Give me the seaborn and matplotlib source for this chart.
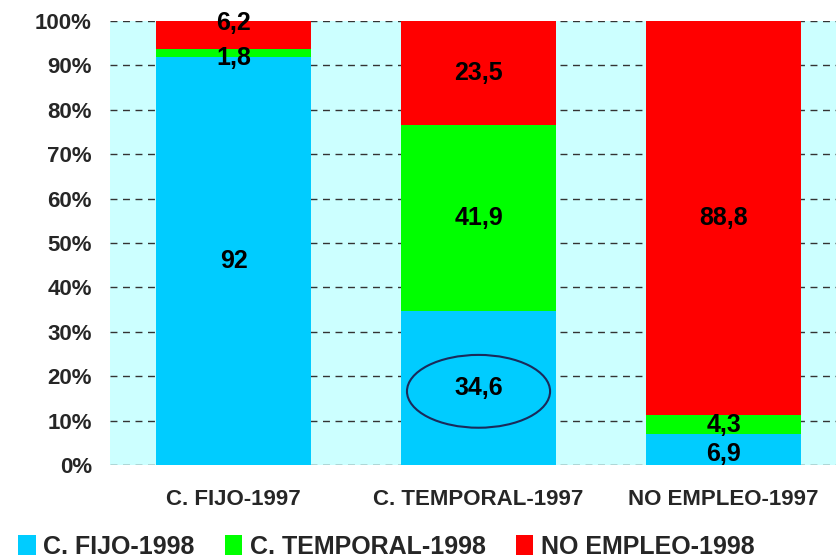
import numpy as np
import pandas as pd
import matplotlib
matplotlib.use("Agg")
import matplotlib.pyplot as plt
import seaborn as sns
from matplotlib.patches import Ellipse, Patch

# ---------------------------------------------------------------
# Datos (lectura del gráfico)
# ---------------------------------------------------------------
categorias = ["C. FIJO-1997", "C. TEMPORAL-1997", "NO EMPLEO-1997"]
series = ["C. FIJO-1998", "C. TEMPORAL-1998", "NO EMPLEO-1998"]
fijo_1998 = [92, 34.6, 6.9]
temporal_1998 = [1.8, 41.9, 4.3]
no_empleo_1998 = [6.2, 23.5, 88.8]
etiquetas = [["92", "1,8", "6,2"], ["34,6", "41,9", "23,5"], ["6,9", "4,3", "88,8"]]

colores = ["#00CCFF", "#00FF00", "#FF0000"]
fondo = "#CCFFFF"

df = pd.DataFrame({
    "cat": categorias,
    "fijo": fijo_1998,
    "temporal": temporal_1998,
    "no_empleo": no_empleo_1998,
})
df["c1"] = df["fijo"]
df["c2"] = df["fijo"] + df["temporal"]
df["c3"] = df["c2"] + df["no_empleo"]

sns.set_style("white")
plt.rcParams["font.family"] = ["Liberation Sans", "DejaVu Sans"]
plt.rcParams["font.weight"] = "bold"

fig = plt.figure(figsize=(8.36, 5.60), dpi=100)
ax = fig.add_axes([0.1316, 0.1696, 0.8684, 0.7929])
ax.set_facecolor(fondo)

# barras apiladas: se dibuja el acumulado de mayor a menor
for col, color in zip(["c3", "c2", "c1"], colores[::-1]):
    sns.barplot(data=df, x="cat", y=col, color=color, width=0.633,
                saturation=1, ax=ax, zorder=3, edgecolor="none")

ax.set_xlim(-0.504, 2.459)
ax.set_ylim(0, 100)
ax.set_yticks(np.arange(0, 101, 10))
ax.set_yticklabels([f"{v}%" for v in range(0, 101, 10)])
ax.yaxis.grid(True, linestyle=(0, (5, 4)), color="#333333", linewidth=1, zorder=0)
ax.set_axisbelow(True)
ax.tick_params(axis="y", labelsize=16, length=0, pad=13)
ax.tick_params(axis="x", labelsize=16, length=0, pad=17)
for lab in ax.get_xticklabels() + ax.get_yticklabels():
    lab.set_fontweight("bold")
ax.set_xlabel("")
ax.set_ylabel("")
for s in ax.spines.values():
    s.set_visible(False)

# etiquetas de valores (centro de cada tramo, con pequeños ajustes)
ajustes = {(0, 1): -1.2, (0, 2): 2.6, (2, 0): -0.9}
for i, row in df.iterrows():
    bases = [0, row["c1"], row["c2"]]
    vals = [row["fijo"], row["temporal"], row["no_empleo"]]
    for j in range(3):
        y = bases[j] + vals[j] / 2 + ajustes.get((i, j), 0)
        ax.text(i, y, etiquetas[i][j], ha="center", va="center",
                fontsize=18, fontweight="bold", color="black", zorder=5)

# elipse alrededor de 34,6
ax.add_patch(Ellipse((1, df.loc[1, "fijo"] / 2 - 0.7), 0.584, 16.4,
                     facecolor="none", edgecolor="#1a2a5a", linewidth=1.5, zorder=4))

handles = [Patch(facecolor=c, edgecolor="none") for c in colores]
fig.legend(handles, series, loc="center", bbox_to_anchor=(0.462, 0.024), ncol=3,
           frameon=False, prop={"size": 18, "weight": "bold"},
           handlelength=0.7, handleheight=0.9, handletextpad=0.3, columnspacing=1.2)

fig.savefig("out.png", dpi=100)
